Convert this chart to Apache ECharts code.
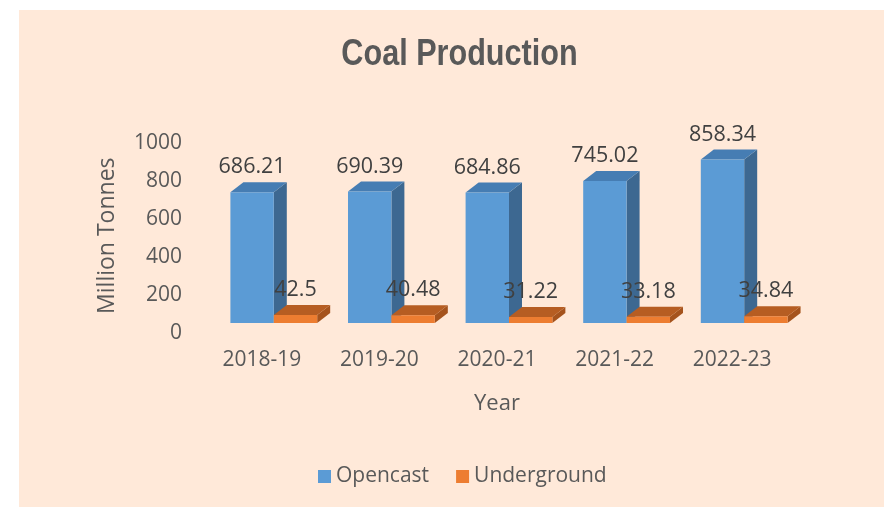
<!DOCTYPE html>
<html>
<head>
<meta charset="utf-8">
<script src="https://cdn.jsdelivr.net/npm/echarts@6/dist/echarts.min.js"></script>
<style>
html,body{margin:0;padding:0;background:#fff;}
#bg{position:absolute;left:19px;top:10px;right:0;bottom:0;background:#FFE9D9;}
#chart{position:absolute;left:0;top:0;width:884px;height:507px;}
</style>
</head>
<body>
<div id="bg"></div>
<div id="chart"></div>
<script>
var categories = ['2018-19', '2019-20', '2020-21', '2021-22', '2022-23'];
var opencast = [686.21, 690.39, 684.86, 745.02, 858.34];
var underground = [42.5, 40.48, 31.22, 33.18, 34.84];
var yTicks = [0, 200, 400, 600, 800, 1000];

var FONT = "'Open Sans', 'Noto Sans', sans-serif";
var TXT = '#595959';

function make3D(side, front, sideCol, topCol) {
  // side: 0 = left bar of pair (opencast), 1 = right bar (underground)
  return function (params, api) {
    var idx = api.value(0);
    var val = api.value(1);
    var top = api.coord([idx, val]);
    var base = api.coord([idx, 0]);
    var band = api.size([1, 0])[0];
    var w = band * 0.369;
    var shift = band * 0.102;
    var cx = top[0] + shift;
    var x0 = side === 0 ? cx - w : cx;
    var x1 = x0 + w;
    var yT = top[1], yB = base[1];
    var dx = 13, dy = 10;
    return {
      type: 'group',
      children: [
        {type: 'polygon', shape: {points: [[x1, yT], [x1 + dx, yT - dy], [x1 + dx, yB - dy], [x1, yB]]}, style: {fill: sideCol}},
        {type: 'polygon', shape: {points: [[x0, yT], [x0 + dx, yT - dy], [x1 + dx, yT - dy], [x1, yT]]}, style: {fill: topCol}},
        {type: 'rect', shape: {x: x0, y: yT, width: w, height: yB - yT}, style: {fill: front}},
        {type: 'text', z2: 100, style: {text: String(val), x: (x0 + x1) / 2, y: yT - 25, align: 'center', verticalAlign: 'middle', fontSize: 21.5, fontFamily: FONT, fill: '#404040'}}
      ]
    };
  };
}

var chart = echarts.init(document.getElementById('chart'), null, {renderer: 'canvas'});
chart.setOption({
  animation: false,
  graphic: [{
    type: 'text', x: 459.5, y: 55.5, scaleX: 0.85, z: 10,
    style: {text: 'Coal Production', align: 'center', verticalAlign: 'middle',
      fontFamily: "'Liberation Sans', Arial, sans-serif", fontSize: 36, fontWeight: 'bold', fill: TXT}
  }],
  legend: {
    left: 318, top: 466, padding: 0, itemGap: 27, itemWidth: 13, itemHeight: 13, icon: 'rect',
    textStyle: {fontFamily: FONT, fontSize: 21, color: TXT},
    data: ['Opencast', 'Underground']
  },
  grid: {left: 203, width: 588, top: 132.4, bottom: 507 - 323},
  xAxis: {
    type: 'category', data: categories,
    axisLine: {show: false}, axisTick: {show: false},
    axisLabel: {fontFamily: FONT, fontSize: 21, color: TXT, margin: 27},
    name: 'Year', nameLocation: 'middle', nameGap: 70,
    nameTextStyle: {fontFamily: FONT, fontSize: 22, color: TXT}
  },
  yAxis: {
    type: 'value', min: 0, max: 1000, interval: 200,
    axisLine: {show: false}, axisTick: {show: false}, splitLine: {show: false},
    axisLabel: {fontFamily: FONT, fontSize: 21, color: TXT, margin: 21, verticalAlign: 'top',
      formatter: function (v) { return yTicks.indexOf(v) >= 0 ? String(v) : ''; }},
    name: 'Million Tonnes', nameLocation: 'middle', nameGap: 84,
    nameTextStyle: {fontFamily: FONT, fontSize: 23, color: TXT, padding: [0, 16, 0, 0]}
  },
  series: [
    {name: 'Opencast', type: 'custom', itemStyle: {color: '#5B9BD5'},
     renderItem: make3D(0, '#5B9BD5', '#3D6891', '#467DB3'),
     data: opencast.map(function (v, i) { return [i, v]; })},
    {name: 'Underground', type: 'custom', itemStyle: {color: '#ED7D31'},
     renderItem: make3D(1, '#ED7D31', '#A5531D', '#B65D22'),
     data: underground.map(function (v, i) { return [i, v]; })}
  ]
});
</script>
</body>
</html>
